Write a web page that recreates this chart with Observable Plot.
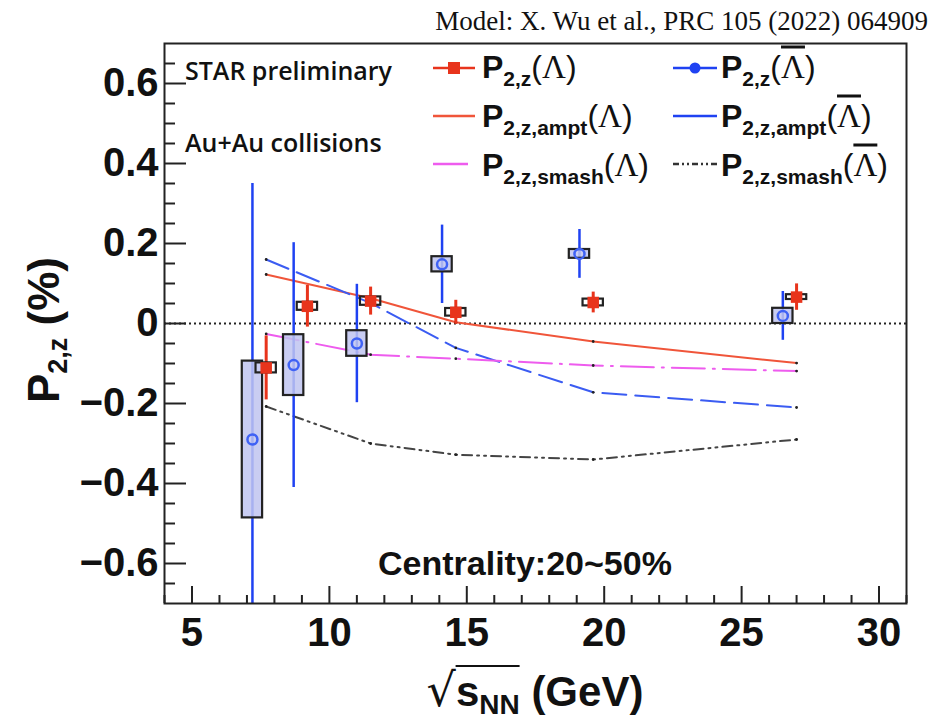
<!DOCTYPE html>
<html>
<head>
<meta charset="utf-8">
<script src="https://cdn.jsdelivr.net/npm/d3@7"></script>
<script src="https://cdn.jsdelivr.net/npm/@observablehq/plot@0.6"></script>
<style>
  html, body { margin: 0; padding: 0; background: white; }
  #wrap { position: relative; width: 933px; height: 723px; overflow: hidden; background: white; }
  #wrap > svg { position: absolute; left: 0; top: 0; }
  .t { position: absolute; white-space: nowrap; line-height: 1; color: #111; }
  .mid { transform: translateY(-50%); }
  .leg { font-family: "Liberation Sans", Arial, sans-serif; font-weight: bold; font-size: 32px; }
  .leg sub { font-size: 21px; vertical-align: -8px; line-height: 0; }
  .lam { font-family: "Liberation Serif", "Times New Roman", serif; font-weight: normal; font-size: 33px; }
  .bar { text-decoration: overline; text-decoration-thickness: 2.5px; }
  .paren { font-weight: normal; font-family: "Liberation Sans", Arial, sans-serif; }
  svg [aria-label="y-axis tick label"] text, svg [aria-label="x-axis tick label"] text { font-weight: bold; }
</style>
</head>
<body>
<div id="wrap"></div>
<script>
// ---- data ----
const energyLambda = [7.7, 9.2, 11.5, 14.6, 19.6, 27];
const p2zLambda    = [-0.111, 0.043, 0.056, 0.028, 0.0525, 0.066];
const statLambda   = [0.08, 0.052, 0.035, 0.03, 0.026, 0.033];
const sysLambda    = [0.0125, 0.010, 0.0105, 0.0095, 0.0085, 0.006];

const energyAntiLambda = [7.2, 8.7, 11.0, 14.1, 19.1, 26.5];
const p2zAntiLambda    = [-0.29, -0.104, -0.05, 0.148, 0.174, 0.019];
const statAntiLambda   = [0.64, 0.306, 0.148, 0.098, 0.061, 0.061];
const sysAntiLambda    = [0.196, 0.076, 0.032, 0.019, 0.011, 0.019];

const modelEnergy     = [7.7, 11.5, 14.6, 19.6, 27];
const amptLambda      = [0.1225, 0.063, 0.003, -0.045, -0.099];
const amptAntiLambda  = [0.16, 0.051, -0.061, -0.172, -0.21];
const smashLambda     = [-0.026, -0.078, -0.088, -0.105, -0.119];
const smashAntiLambda = [-0.2075, -0.30, -0.328, -0.34, -0.29];

const xTickLabels = [5, 10, 15, 20, 25, 30];
const yTickLabels = [-0.6, -0.4, -0.2, 0, 0.2, 0.4, 0.6];

// ---- tables built from the arrays ----
const lam = energyLambda.map((x, i) => ({x, y: p2zLambda[i], stat: statLambda[i], sys: sysLambda[i]}));
const anti = energyAntiLambda.map((x, i) => ({x, y: p2zAntiLambda[i], stat: statAntiLambda[i], sys: sysAntiLambda[i]}));
const models = [
  {key: "amptL", vals: amptLambda},
  {key: "amptA", vals: amptAntiLambda},
  {key: "smashL", vals: smashLambda},
  {key: "smashA", vals: smashAntiLambda}
];
const modelRows = models.flatMap(m => modelEnergy.map((x, i) => ({key: m.key, x, y: m.vals[i]})));
const rowsOf = k => modelRows.filter(d => d.key === k);

const xMinor = d3.range(4, 31.001, 1).filter(v => !xTickLabels.includes(v));
const yMinor = d3.range(-0.65, 0.651, 0.05).map(v => +v.toFixed(2)).filter(v => !yTickLabels.some(t => Math.abs(t - v) < 1e-6));

const W = 933, H = 723, mL = 164, mR = 27, mT = 43, mB = 120;
const fw = W - mL - mR, fh = H - mT - mB;
const RED = "#e8341c", BLUE = "#1f42f2", INK = "#222";
const halfBox = 0.37;
const fmt = d => d === 0 ? "0" : (d < 0 ? "\u2212" : "") + Math.abs(d).toFixed(1);

const plot = Plot.plot({
  width: W, height: H,
  marginLeft: mL, marginRight: mR, marginTop: mT, marginBottom: mB,
  x: {domain: [4, 31]},
  y: {domain: [-0.7, 0.7]},
  style: {fontFamily: "'Liberation Sans', Arial, sans-serif", background: "white", color: "#111"},
  marks: [
    Plot.ruleY([0], {stroke: INK, strokeWidth: 2, strokeDasharray: "2,3"}),
    // models
    Plot.line(rowsOf("amptL"), {x: "x", y: "y", stroke: "#f0553a", strokeWidth: 2}),
    Plot.line(rowsOf("amptA"), {x: "x", y: "y", stroke: "#3b5cf2", strokeWidth: 2, strokeDasharray: "24,9"}),
    Plot.line(rowsOf("smashL"), {x: "x", y: "y", stroke: "#ee5cee", strokeWidth: 2, strokeDasharray: "33,8,2,8"}),
    Plot.line(rowsOf("smashA"), {x: "x", y: "y", stroke: "#444", strokeWidth: 2, strokeDasharray: "10,5,2,5,2,5"}),
    Plot.dot(modelRows, {x: "x", y: "y", r: 1.4, fill: "#222", stroke: null}),
    // anti-lambda
    Plot.ruleX(anti, {x: "x", y1: d => d.y - d.stat, y2: d => d.y + d.stat, stroke: BLUE, strokeWidth: 2.5, clip: true}),
    Plot.rect(anti, {x1: d => d.x - halfBox, x2: d => d.x + halfBox, y1: d => d.y - d.sys, y2: d => d.y + d.sys,
      fill: "#c0c4f0", fillOpacity: 0.85, stroke: INK, strokeWidth: 2.2}),
    Plot.dot(anti, {x: "x", y: "y", r: 5, stroke: "#3f62f5", strokeWidth: 2.5, fill: "none"}),
    // lambda
    Plot.ruleX(lam, {x: "x", y1: d => d.y - d.stat, y2: d => d.y + d.stat, stroke: RED, strokeWidth: 3}),
    Plot.rect(lam, {x1: d => d.x - halfBox, x2: d => d.x + halfBox, y1: d => d.y - d.sys, y2: d => d.y + d.sys,
      fill: "none", stroke: INK, strokeWidth: 2.2}),
    Plot.dot(lam, {x: "x", y: "y", symbol: "square", r: 6.5, fill: RED, stroke: null}),
    // inward ticks
    Plot.tickY(yTickLabels, {y: d => d, stroke: INK, strokeWidth: 2, insetRight: fw - 22}),
    Plot.tickY(yMinor, {y: d => d, stroke: INK, strokeWidth: 2, insetRight: fw - 11}),
    Plot.tickX(xTickLabels, {x: d => d, stroke: INK, strokeWidth: 2, insetTop: fh - 17}),
    Plot.tickX(xMinor, {x: d => d, stroke: INK, strokeWidth: 2, insetTop: fh - 8}),
    Plot.axisY({ticks: yTickLabels, tickSize: 0, tickPadding: 6, tickFormat: fmt, fontSize: 40, fontWeight: "bold", label: null, color: "#111"}),
    Plot.axisX({ticks: xTickLabels, tickSize: 0, tickPadding: 14, tickFormat: d => String(d), fontSize: 40, fontWeight: "bold", label: null, color: "#111"}),
    Plot.frame({stroke: INK, strokeWidth: 2})
  ]
});

const wrap = document.getElementById("wrap");
wrap.appendChild(plot);

function addText(html, style, cls) {
  const d = document.createElement("div");
  d.className = "t " + (cls || "");
  d.innerHTML = html;
  Object.assign(d.style, style);
  wrap.appendChild(d);
  return d;
}

const LAM = '<span class="paren">(</span><span class="lam">\u039B</span><span class="paren">)</span>';
const ALAM = '<span class="paren">(</span><span class="lam bar">\u039B</span><span class="paren">)</span>';

// title
addText("Model: X. Wu et al., PRC 105 (2022) 064909",
  {right: "5px", top: "21px", fontFamily: "'Liberation Serif', 'Times New Roman', serif", fontSize: "27px"}, "mid");
// annotations
addText("STAR preliminary", {left: "185px", top: "70px", fontFamily: "'Open Sans', sans-serif", fontWeight: "600", fontSize: "25px"}, "mid");
addText("Au+Au collisions", {left: "185px", top: "142px", fontFamily: "'Open Sans', sans-serif", fontWeight: "600", fontSize: "25px"}, "mid");
addText("Centrality:20~50%", {left: "378px", top: "563px", fontFamily: "'Liberation Sans', Arial, sans-serif", fontWeight: "bold", fontSize: "34px"}, "mid");

// legend
function swatch(left, top, w, stroke, dash, marker) {
  const ns = "http://www.w3.org/2000/svg";
  const s = document.createElementNS(ns, "svg");
  s.setAttribute("width", w); s.setAttribute("height", 16);
  s.style.position = "absolute"; s.style.left = left + "px"; s.style.top = (top - 8) + "px";
  const l = document.createElementNS(ns, "line");
  l.setAttribute("x1", 0); l.setAttribute("x2", w); l.setAttribute("y1", 8); l.setAttribute("y2", 8);
  l.setAttribute("stroke", stroke); l.setAttribute("stroke-width", 2.5);
  if (dash) l.setAttribute("stroke-dasharray", dash);
  s.appendChild(l);
  if (marker === "square") {
    const r = document.createElementNS(ns, "rect");
    r.setAttribute("x", w / 2 - 6); r.setAttribute("y", 2); r.setAttribute("width", 12); r.setAttribute("height", 12);
    r.setAttribute("fill", stroke); s.appendChild(r);
  } else if (marker === "circle") {
    const c = document.createElementNS(ns, "circle");
    c.setAttribute("cx", w / 2); c.setAttribute("cy", 8); c.setAttribute("r", 5.5);
    c.setAttribute("fill", stroke); s.appendChild(c);
  }
  wrap.appendChild(s);
}
swatch(433, 68, 42, RED, null, "square");
swatch(433, 116, 42, "#f0553a", null, null);
swatch(433, 164, 35, "#ee5cee", null, null);
swatch(673, 68, 44, BLUE, null, "circle");
swatch(673, 116, 44, BLUE, null, null);
swatch(673, 164, 44, "#333", "6,3,2,3,2,3", null);

addText("P<sub>2,z</sub>" + LAM, {left: "482px", top: "67px"}, "leg mid");
addText("P<sub>2,z,ampt</sub>" + LAM, {left: "482px", top: "116px"}, "leg mid");
addText("P<sub>2,z,smash</sub>" + LAM, {left: "482px", top: "165px"}, "leg mid");
addText("P<sub>2,z</sub>" + ALAM, {left: "721px", top: "67px"}, "leg mid");
addText("P<sub>2,z,ampt</sub>" + ALAM, {left: "721px", top: "116px"}, "leg mid");
addText("P<sub>2,z,smash</sub>" + ALAM, {left: "721px", top: "165px"}, "leg mid");

// axis titles
addText('<span style="font-family:\'DejaVu Sans\',sans-serif;font-weight:normal;font-size:46px">\u221A</span><span style="border-top:2px solid #111;padding-top:1px">s<sub style="font-size:28px;vertical-align:-8px;line-height:0">NN</sub></span> (GeV)',
  {left: "535px", top: "690px", transform: "translate(-50%,-50%)", fontFamily: "'Liberation Sans', Arial, sans-serif", fontWeight: "bold", fontSize: "42px"});
addText('P<sub style="font-size:27px;vertical-align:-8px;line-height:0">2,z</sub> (%)',
  {left: "44px", top: "330px", transform: "translate(-50%,-50%) rotate(-90deg)", fontFamily: "'Liberation Sans', Arial, sans-serif", fontWeight: "bold", fontSize: "44px"});
</script>
</body>
</html>
